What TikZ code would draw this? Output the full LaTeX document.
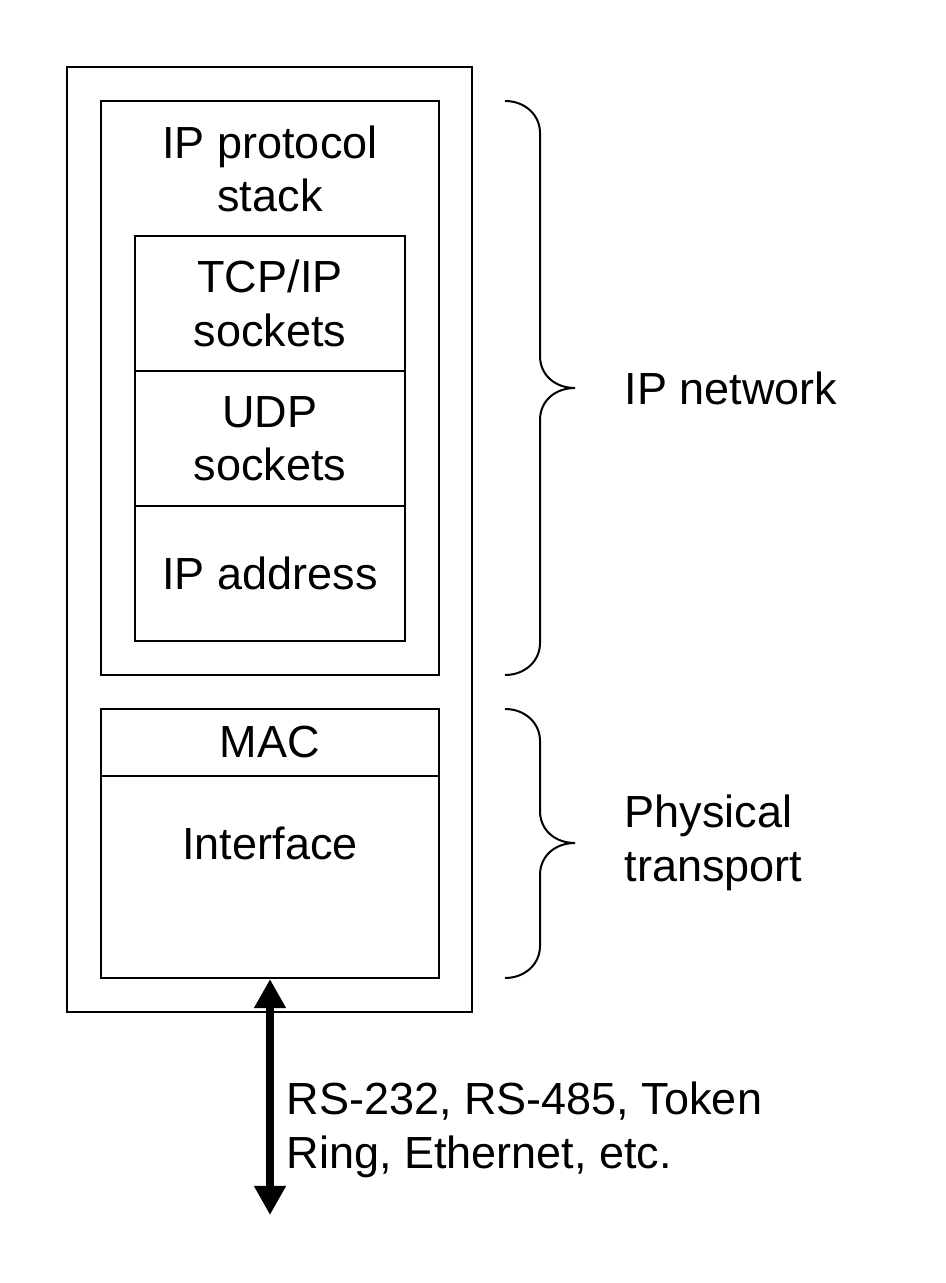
\documentclass[tikz,border=0pt]{standalone}
\usepackage{fontspec}
\setmainfont{Liberation Sans}
\usepackage{tikz}
\usetikzlibrary{arrows.meta}

\begin{document}
\begin{tikzpicture}[x=0.01cm,y=-0.01cm,
  box/.style={draw=black,line width=0.57pt,inner sep=0pt},
  txt/.style={align=center,inner sep=0pt,font=\fontsize{12.8pt}{15.2pt}\selectfont},
  sidetxt/.style={align=left,anchor=west,inner sep=0pt,font=\fontsize{12.8pt}{15.2pt}\selectfont},
  brace/.style={line width=0.57pt},
  biarrow/.style={line width=2.1pt,{Triangle[length=0.29cm,width=0.3cm]}-{Triangle[length=0.29cm,width=0.3cm]}}]
\useasboundingbox (0,0) rectangle (945,1283);

\node[box,minimum width=4.05cm,minimum height=9.45cm] (dev) at (269.5,539.5) {};
\node[box,minimum width=3.38cm,minimum height=5.74cm] (stack) at (270,388) {};
\node[txt] (stacklbl) at (270,169) {IP protocol\\stack};
\node[box,txt,minimum width=2.7cm,minimum height=1.35cm] (tcp) at (270,303.5) {TCP/IP\\sockets};
\node[box,txt,minimum width=2.7cm,minimum height=1.35cm] (udp) at (270,438.5) {UDP\\sockets};
\node[box,txt,minimum width=2.7cm,minimum height=1.35cm] (ipaddr) at (270,573.5) {IP address};
\node[box,txt,minimum width=3.38cm,minimum height=0.67cm] (mac) at (270,742.5) {MAC};
\node[box,minimum width=3.38cm,minimum height=2.02cm] (iface) at (270,877) {};
\node[txt] (ifacelbl) at (270,843) {Interface};

% braces
\draw[brace] (505,101) .. controls (525,101) and (540,115) .. (540,133) -- (540,356)
  .. controls (540,375) and (555,388) .. (575,388) .. controls (555,388) and (540,401) .. (540,420)
  -- (540,643) .. controls (540,661) and (525,675) .. (505,675);
\draw[brace] (505,709) .. controls (525,709) and (540,723) .. (540,741) -- (540,811)
  .. controls (540,830) and (555,843) .. (575,843) .. controls (555,843) and (540,856) .. (540,875)
  -- (540,946) .. controls (540,964) and (525,978) .. (505,978);

\node[sidetxt] (ipnet) at (624,388) {IP network};
\node[sidetxt] (phys) at (624,843) {Physical\\transport};

\coordinate (portend) at (270,1215);
\draw[biarrow] (iface.south) -- (portend);
\node[sidetxt] (ports) at (286,1130) {RS-232, RS-485, Token\\Ring, Ethernet, etc.};
\end{tikzpicture}
\end{document}
